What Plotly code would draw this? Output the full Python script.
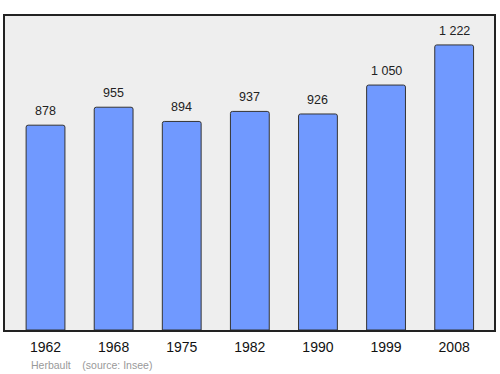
import plotly.graph_objects as go

years = ["1962", "1968", "1975", "1982", "1990", "1999", "2008"]
population = [878, 955, 894, 937, 926, 1050, 1222]
labels = ["878", "955", "894", "937", "926", "1 050", "1 222"]
pos = list(range(len(years)))

FONT = "Liberation Sans, Arial, sans-serif"

fig = go.Figure()
fig.add_trace(go.Bar(
    x=pos, y=population, width=0.57,
    marker=dict(color="#7099ff", line=dict(color="#333333", width=1), cornerradius=2),
    hoverinfo="skip",
))
for p, v, t in zip(pos, population, labels):
    fig.add_annotation(x=p, y=v, text=t, showarrow=False, yanchor="middle", yshift=14,
                       font=dict(family=FONT, size=12.5, color="#222222"))
fig.add_annotation(xref="paper", yref="paper", x=0.05, y=-0.112, xanchor="left", yanchor="middle",
                   text="Herbault&nbsp;&nbsp;&nbsp;&nbsp;(source: Insee)", showarrow=False,
                   font=dict(family=FONT, size=10.5, color="#999999"))

fig.update_layout(
    width=500, height=374,
    margin=dict(l=5, r=4, t=16, b=44),
    paper_bgcolor="white", plot_bgcolor="#eeeeee",
    showlegend=False,
    xaxis=dict(range=[-0.595, 6.585], showline=True, mirror=True,
               tickmode="array", tickvals=pos, ticktext=years, ticklabelstandoff=3,
               linecolor="#222222", linewidth=1.5, showgrid=False, ticks="", zeroline=False,
               tickfont=dict(family=FONT, size=14, color="#111111")),
    yaxis=dict(range=[0, 1346], showline=True, mirror=True, linecolor="#222222",
               linewidth=1.5, showgrid=False, showticklabels=False, ticks="", zeroline=False),
)
fig.write_html("out.html")
